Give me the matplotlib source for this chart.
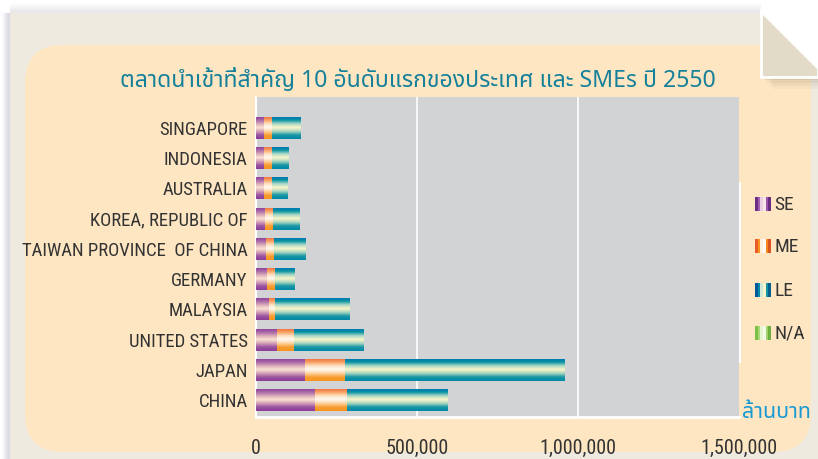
import matplotlib
matplotlib.use("Agg")
import matplotlib.pyplot as plt
import numpy as np
from matplotlib import font_manager, ft2font
from matplotlib.font_manager import FontProperties
from matplotlib.colors import LinearSegmentedColormap, to_rgb
from matplotlib.patches import FancyBboxPatch, Rectangle, Polygon
from matplotlib.lines import Line2D

# top 10 import markets, bottom to top (million baht)
countries = ["CHINA", "JAPAN", "UNITED STATES", "MALAYSIA", "GERMANY",
             "TAIWAN PROVINCE  OF CHINA", "KOREA, REPUBLIC OF", "AUSTRALIA",
             "INDONESIA", "SINGAPORE"]
se = [183000, 152000, 65000, 40000, 34000, 31000, 28000, 25000, 25000, 25000]
me = [99000, 124000, 53000, 19000, 25000, 25000, 25000, 25000, 25000, 25000]
le = [313000, 681000, 217000, 232000, 62000, 99000, 83000, 47000, 50000, 89000]
na = [0, 0, 0, 0, 0, 0, 0, 0, 0, 0]
series_names = ["SE", "ME", "LE", "N/A"]
xticks = [0, 500000, 1000000, 1500000]

title = "ตลาดนำเข้าที่สำคัญ 10 อันดับแรกของประเทศ และ SMEs ปี 2550"
unit = "ล้านบาท"


def find_thai_font():
    found = []
    for f in font_manager.fontManager.ttflist:
        try:
            cmap = ft2font.FT2Font(f.fname).get_charmap()
        except Exception:
            continue
        if 0x0E15 in cmap and 0x0E49 in cmap:
            found.append(f.name)
    for pref in ["Noto Sans Thai", "Loma", "Garuda", "Waree", "Umpush", "Sawasdee", "Norasi"]:
        if pref in found:
            return pref
    return found[0] if found else "DejaVu Sans"


def find_narrow_font():
    # a condensed sans if there is one, else Liberation Sans
    cands = []
    for f in font_manager.fontManager.ttflist:
        narrow = ("Narrow" in f.name or "Condensed" in f.name
                  or f.stretch in ("condensed", "semi-condensed", 500 - 100))
        if narrow and f.style == "normal" and f.weight in (400, "normal", "regular"):
            cands.append(f)
    order = ["Liberation Sans Narrow", "Roboto Condensed", "DejaVu Sans", "Open Sans Condensed"]
    cands.sort(key=lambda f: order.index(f.name) if f.name in order else 99)
    if cands:
        return cands[0].fname, True
    return font_manager.findfont("Liberation Sans"), False


thai = find_thai_font()
narrow_path, is_narrow = find_narrow_font()


def fp(size):
    # scale down a bit if no condensed face is installed
    return FontProperties(fname=narrow_path, size=size if is_narrow else size * 0.86)


W, H = 818, 459
fig = plt.figure(figsize=(W / 100, H / 100), dpi=100)
fig.patch.set_facecolor("white")

# background drawn in pixel units
bg = fig.add_axes([0, 0, 1, 1])
bg.axis("off")

# page shadows
grad_l = np.array([to_rgb(c) for c in ["#ffffff", "#f6f6f8", "#e4e5ec", "#d9dbe4"]])[None, :, :]
bg.imshow(grad_l, extent=[0, 10, 459, 13], aspect="auto", interpolation="bilinear")
grad_t = np.array([to_rgb(c) for c in ["#ffffff", "#f7f7f7", "#e9e9ec"]])[:, None, :]
bg.imshow(grad_t, extent=[10, 818, 13, 0], aspect="auto", interpolation="bilinear")

bg.add_patch(Rectangle((10, 13), 808, 446, fc="#eeeae0", ec="none"))
bg.add_patch(FancyBboxPatch((25, 45), 786, 407, boxstyle="round,pad=0,rounding_size=38",
                            fc="#fee6c2", ec="none"))
# folded corner
bg.add_patch(Polygon([(761, 0), (818, 0), (818, 68), (761, 11)], fc="white", ec="none"))
for k, a in enumerate([0.12, 0.09, 0.07, 0.05]):
    d = 3 + k * 3
    bg.add_patch(Polygon([(761 + d, 11 + d), (761 + d, 77 + d), (818, 77 + d), (818, 68 + d)],
                         fc="#8a7a60", ec="none", alpha=a))
bg.add_patch(Polygon([(761, 11), (761, 77), (818, 77), (818, 68)], fc="#e2dbc8",
                     ec="white", lw=2, joinstyle="miter"))

# legend swatches
legend_cols = [
    ["#6d2c86", "#a35fb0", "#e9cde0", "#f6e6ea", "#9a55a8", "#6a2a82"],
    ["#e85d27", "#f7941d", "#fff0dc", "#fffaf2", "#f6861f", "#d9561e"],
    ["#005a9a", "#0a8aa6", "#cfe8d8", "#f8f4cc", "#1a94a4", "#00608e"],
    ["#7cbf45", "#a9d77a", "#e6f5cf", "#f4fbe6", "#a3d26c", "#6fb03c"],
]
leg_y = [204, 246, 290, 333]
for name, cols, cy in zip(series_names, legend_cols, leg_y):
    g = np.array([to_rgb(c) for c in cols])[None, :, :]
    bg.imshow(g, extent=[755, 771, cy + 7, cy - 7], aspect="auto",
              interpolation="nearest", zorder=3)
    bg.text(774, cy + 1, name, fontproperties=fp(14), color="#333333", va="center", ha="left")

bg.text(742, 418, unit, fontsize=15.5, color="#1a9ad3", va="baseline", ha="left",
        family=[thai, "DejaVu Sans"])
bg.text(418, 87, title, fontsize=16.6, color="#15809a", va="baseline", ha="center",
        family=[thai, "DejaVu Sans"])

bg.set_xlim(0, W)
bg.set_ylim(H, 0)

# main chart
ax = fig.add_axes([256 / W, 1 - 417 / H, (739 - 256) / W, (417 - 97) / H])
ax.set_facecolor("#d2d3d5")

grads = {
    "SE": ["#8a3e98", "#a866a8", "#d9aab8", "#fbe3d2", "#d4a0b8", "#9c55a2", "#8a3e98"],
    "ME": ["#f2673d", "#f8a060", "#fde0c0", "#fffaf2", "#fcd3a0", "#f89d35", "#f7941d"],
    "LE": ["#0070bb", "#06929f", "#a9d8c8", "#fbf6c8", "#a8d6c0", "#1896a4", "#0088a8"],
    "N/A": ["#6fb03c", "#a9d77a", "#f4fbe6", "#a3d26c", "#6fb03c"],
}

y = np.arange(len(countries))
left = np.zeros(len(countries))
for name, vals in zip(series_names, [se, me, le, na]):
    cmap = LinearSegmentedColormap.from_list(name, grads[name])
    img = cmap(np.linspace(0, 1, 60))[:, None, :3]
    bars = ax.barh(y, vals, left=left, height=0.73, color=grads[name][0], zorder=2)
    for p in bars.patches:
        if p.get_width() <= 0:
            continue
        x0, y0 = p.get_x(), p.get_y()
        im = ax.imshow(img, extent=[x0, x0 + p.get_width(), y0, y0 + p.get_height()],
                       origin="upper", aspect="auto", interpolation="bilinear", zorder=3)
        im.set_clip_path(p)
    left = left + np.array(vals)

for v in xticks[1:-1]:
    ax.axvline(v, color="white", lw=1.2, zorder=1)

ax.set_xlim(0, 1500000)
ax.set_ylim(-0.5625, 10.026)
ax.set_xticks(xticks)
ax.set_xticklabels([f"{v:,}" for v in xticks], fontproperties=fp(14.5), color="#333333")
ax.set_yticks(y)
ax.set_yticklabels(countries, fontproperties=fp(13.5), color="#333333")
ax.tick_params(axis="x", length=0, pad=16)
ax.tick_params(axis="y", length=0, pad=6)
for s in ["top", "right"]:
    ax.spines[s].set_visible(False)
ax.spines["left"].set_color("white")
ax.spines["left"].set_linewidth(1.5)
ax.spines["bottom"].set_color("white")
ax.spines["bottom"].set_linewidth(2)

# white edge of the legend box
fig.add_artist(Line2D([739.5 / W, 739.5 / W], [1 - 183 / H, 1 - 362 / H],
                      transform=fig.transFigure, color="white", lw=1.5))

fig.savefig("out.png", dpi=100, facecolor=fig.get_facecolor())
